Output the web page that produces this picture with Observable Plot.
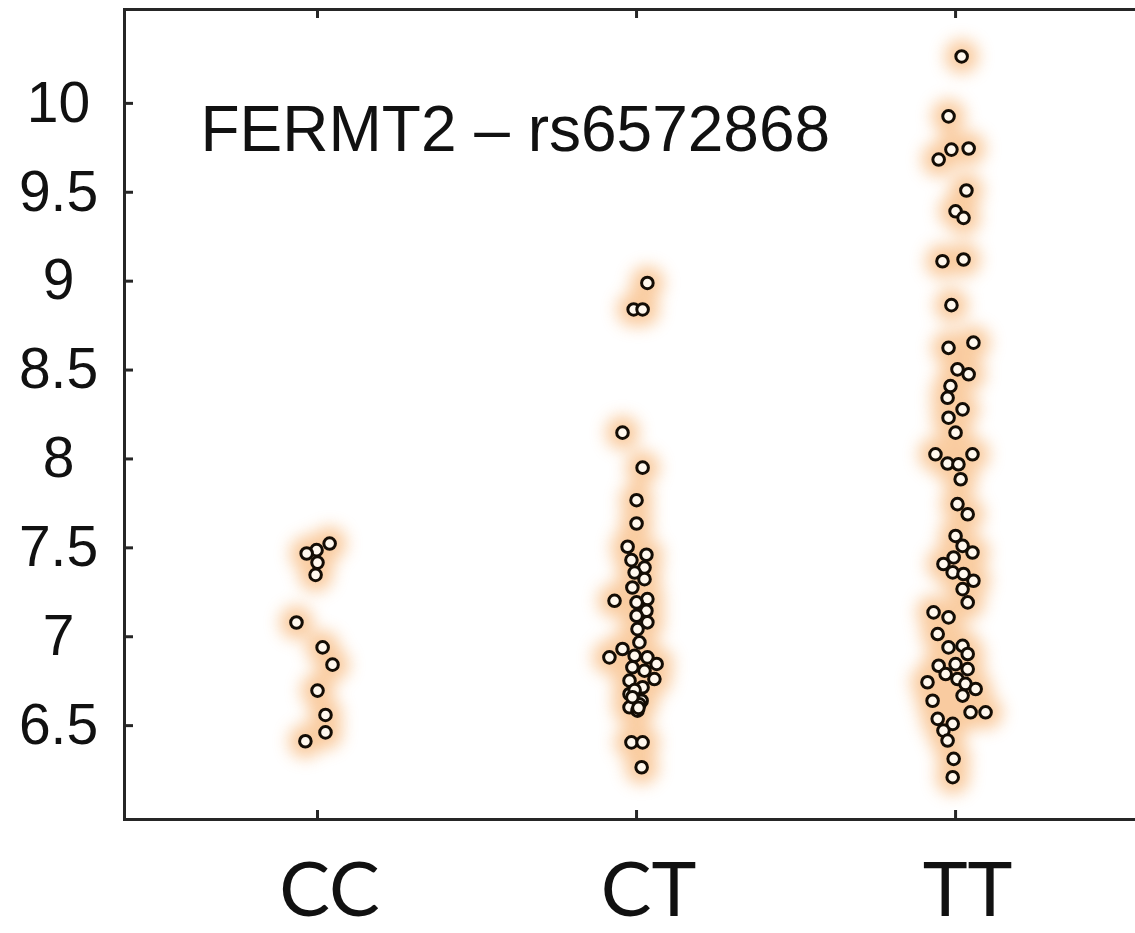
<!DOCTYPE html>
<html><head><meta charset="utf-8">
<script src="https://cdn.jsdelivr.net/npm/d3@7"></script>
<script src="https://cdn.jsdelivr.net/npm/@observablehq/plot@0.6"></script>
<style>html,body{margin:0;padding:0;background:#fff;overflow:hidden;}</style>
</head><body><div id="chart"></div>
<script>
const categories = ["CC", "CT", "TT"];
const title = "FERMT2 – rs6572868";
const yTicks = [6.5, 7, 7.5, 8, 8.5, 9, 9.5, 10];

const ccValues = [7.524, 7.487, 7.468, 7.417, 7.348, 7.080, 6.940, 6.843, 6.697, 6.560, 6.462, 6.412];
const ccJitter = [0.038, -0.003, -0.034, 0, -0.006, -0.066, 0.016, 0.047, 0, 0.025, 0.025, -0.038];

const ctValues = [8.990, 8.841, 8.841, 8.148, 7.951, 7.768, 7.637, 7.506, 7.461, 7.431, 7.389, 7.361, 7.324, 7.277, 7.212, 7.193, 7.202, 7.146, 7.118, 7.081, 7.043, 6.968, 6.931, 6.884, 6.893, 6.884, 6.847, 6.828, 6.809, 6.762, 6.753, 6.716, 6.678, 6.640, 6.603, 6.584, 6.406, 6.406, 6.266, 6.700, 6.620, 6.660, 6.600];
const ctJitter = [0.034, -0.009, 0.019, -0.044, 0.019, 0, 0, -0.028, 0.031, -0.016, 0.025, -0.006, 0.025, -0.013, 0.034, 0, -0.069, 0.031, 0, 0.034, 0.003, 0.009, -0.044, -0.085, -0.006, 0.034, 0.063, -0.013, 0.025, 0.056, -0.022, 0.019, -0.022, 0.016, -0.022, 0.003, -0.016, 0.019, 0.016, -0.006, 0.009, -0.013, 0.006];

const ttValues = [10.264, 9.927, 9.740, 9.746, 9.684, 9.510, 9.393, 9.356, 9.112, 9.122, 8.865, 8.625, 8.654, 8.504, 8.476, 8.410, 8.344, 8.279, 8.232, 8.148, 8.026, 8.026, 7.974, 7.970, 7.886, 7.746, 7.689, 7.567, 7.511, 7.474, 7.409, 7.446, 7.362, 7.353, 7.315, 7.268, 7.193, 7.137, 7.109, 7.015, 6.940, 6.949, 6.903, 6.837, 6.846, 6.818, 6.790, 6.744, 6.762, 6.735, 6.706, 6.640, 6.669, 6.575, 6.575, 6.538, 6.510, 6.472, 6.416, 6.313, 6.210];
const ttJitter = [0.019, -0.022, -0.013, 0.041, -0.053, 0.034, 0, 0.025, -0.041, 0.025, -0.013, -0.022, 0.056, 0.006, 0.041, -0.016, -0.025, 0.022, -0.022, 0, -0.063, 0.053, -0.025, 0.009, 0.016, 0.006, 0.038, 0, 0.022, 0.053, -0.038, -0.006, -0.009, 0.025, 0.056, 0.022, 0.038, -0.069, -0.022, -0.056, -0.022, 0.022, 0.038, -0.053, 0, 0.038, -0.031, -0.088, 0.006, 0.031, 0.063, -0.072, 0.022, 0.047, 0.094, -0.056, -0.009, -0.038, -0.025, -0.006, -0.009];

const data = [];
[[ccValues, ccJitter], [ctValues, ctJitter], [ttValues, ttJitter]].forEach(([vals, jit], i) => {
  vals.forEach((v, k) => data.push({group: categories[i], x: i + jit[k], y: v}));
});

const W = 1135, H = 933, mL = 124, mR = 0, mT = 9, mB = 114;
const innerW = W - mL - mR, innerH = H - mT - mB;
const ink = "#262626";

const plot = Plot.plot({
  width: W, height: H,
  marginLeft: mL, marginRight: mR, marginTop: mT, marginBottom: mB,
  style: {fontFamily: "'Liberation Sans', Arial, sans-serif", background: "#fff", color: "#111", overflow: "hidden"},
  x: {domain: [-0.605, 2.564]},
  y: {domain: [5.972, 10.528]},
  marks: [
    Plot.dot(data, {x: "x", y: "y", r: 17, fill: "#f6aa62", stroke: "none"}),
    Plot.frame({stroke: ink, strokeWidth: 3, insetRight: -8}),
    Plot.tickY(yTicks, {y: d => d, stroke: ink, strokeWidth: 3, insetRight: innerW - 9}),
    Plot.tickX([0, 1, 2], {x: d => d, stroke: ink, strokeWidth: 3, insetTop: innerH - 9}),
    Plot.tickX([0, 1, 2], {x: d => d, stroke: ink, strokeWidth: 3, insetBottom: innerH - 9}),
    Plot.dot(data, {x: "x", y: "y", r: 5.8, fill: "#fff8ee", stroke: "#140d05", strokeWidth: 3}),
    Plot.axisY({ticks: yTicks, tickSize: 0, tickPadding: 66, textAnchor: "middle", fontSize: 57, tickFormat: d => String(d), label: null, fill: "#111"}),
    Plot.axisX({ticks: [0, 1, 2], tickSize: 0, tickPadding: 43, fontSize: 76, fontFamily: "Lato, 'Open Sans', sans-serif", tickFormat: i => categories[i], dx: 12, label: null, fill: "#111"}),
    Plot.text([title], {text: d => d, frameAnchor: "top-left", dx: 76, dy: 96, lineAnchor: "top", textAnchor: "start", fontSize: 64, fill: "#111"})
  ]
});

// soft orange halo behind the markers
const ns = "http://www.w3.org/2000/svg";
const defs = document.createElementNS(ns, "defs");
defs.innerHTML = '<filter id="glow" x="-20%" y="-20%" width="140%" height="140%"><feGaussianBlur stdDeviation="8"/></filter>';
plot.insertBefore(defs, plot.firstChild);
const glow = plot.querySelector('g[aria-label="dot"]');
if (glow) { glow.setAttribute("filter", "url(#glow)"); glow.setAttribute("opacity", "0.6"); }

document.getElementById("chart").appendChild(plot);
</script>
</body></html>
